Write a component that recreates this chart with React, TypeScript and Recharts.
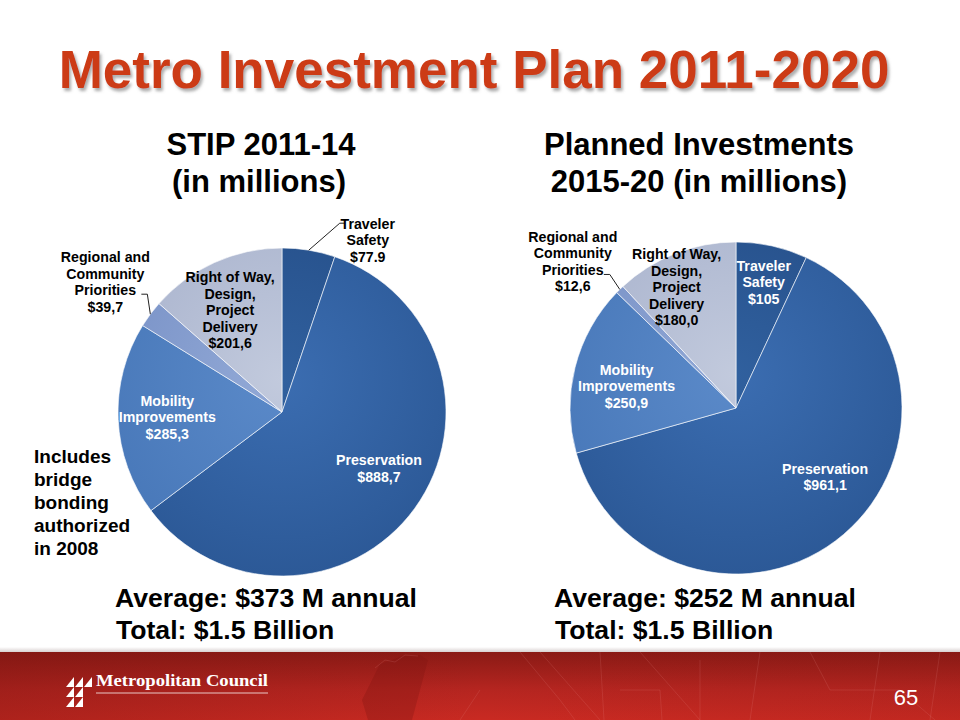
import { PieChart, Pie, Cell } from 'recharts'

const categoryLines = [
  ['Traveler', 'Safety'],
  ['Preservation'],
  ['Mobility', 'Improvements'],
  ['Regional and', 'Community', 'Priorities'],
  ['Right of Way,', 'Design,', 'Project', 'Delivery'],
]
const stipValues = [77.9, 888.7, 285.3, 39.7, 201.6]
const stipValueLabels = ['$77.9', '$888,7', '$285,3', '$39,7', '$201,6']
const plannedValues = [105, 961.1, 250.9, 12.6, 180.0]
const plannedValueLabels = ['$105', '$961,1', '$250,9', '$12,6', '$180,0']

const stipData = categoryLines.map((c, i) => ({ name: c.join(' '), value: stipValues[i] }))
const plannedData = categoryLines.map((c, i) => ({ name: c.join(' '), value: plannedValues[i] }))

// inner / outer colour of each slice gradient
const sliceColors = [
  ['#30609e', '#254e88'],
  ['#3b6db1', '#2c5997'],
  ['#5b8ac9', '#4878b9'],
  ['#93aad7', '#7891c6'],
  ['#c2cadd', '#a9b3cd'],
]

const FONT = "'Liberation Sans', Arial, sans-serif"
const RAD = Math.PI / 180

type Layout = { r: number; dx: number; dy: number; fill: string; leader?: number[][] }

const stipLayout: Layout[] = [
  { r: 1, dx: 59, dy: -10, fill: '#000', leader: [[31, -27], [36, -27]] },
  { r: 0.7, dx: 4, dy: -11, fill: '#fff' },
  { r: 0.7, dx: 0, dy: 0, fill: '#fff' },
  { r: 1, dx: -45, dy: -32, fill: '#000', leader: [[-3, -20], [-9, -20]] },
  { r: 0.68, dx: -6, dy: 0, fill: '#000' },
]

const plannedLayout: Layout[] = [
  { r: 0.77, dx: 0, dy: -1, fill: '#fff' },
  { r: 0.68, dx: 16, dy: -17, fill: '#fff' },
  { r: 0.68, dx: 0, dy: 6, fill: '#fff' },
  { r: 1, dx: -47, dy: -28, fill: '#000', leader: [[-10, -15], [-16, -15]] },
  { r: 0.78, dx: -12, dy: 0, fill: '#000' },
]

const makeLabel = (layout: Layout[], valueLabels: string[]) => (props: any) => {
  const { cx, cy, midAngle, outerRadius, index } = props
  const l = layout[index]
  const cos = Math.cos(-midAngle * RAD)
  const sin = Math.sin(-midAngle * RAD)
  const ax = cx + outerRadius * cos
  const ay = cy + outerRadius * sin
  const x = cx + outerRadius * l.r * cos + l.dx
  const y = cy + outerRadius * l.r * sin + l.dy
  const lines = [...categoryLines[index], valueLabels[index]]
  const lh = 16.5
  const top = y - ((lines.length - 1) * lh) / 2
  return (
    <g key={`lbl-${index}`}>
      {l.leader && (
        <polyline
          points={[[0, 0], ...l.leader].map(([px, py]) => `${ax + px},${ay + py}`).join(' ')}
          fill="none"
          stroke="#222"
          strokeWidth={1}
        />
      )}
      <text x={x} textAnchor="middle" fontFamily={FONT} fontWeight="bold" fontSize={14.2} fill={l.fill}>
        {lines.map((t, i) => (
          <tspan key={i} x={x} y={top + i * lh + 5}>
            {t}
          </tspan>
        ))}
      </text>
    </g>
  )
}

const gradients = (prefix: string, cx: number, cy: number, r: number) =>
  sliceColors.map(([inner, outer], i) => (
    <radialGradient key={prefix + i} id={`${prefix}${i}`} gradientUnits="userSpaceOnUse" cx={cx} cy={cy - r * 0.2} r={r * 1.2}>
      <stop offset="0%" stopColor={inner} />
      <stop offset="100%" stopColor={outer} />
    </radialGradient>
  ))

const Footer = () => (
  <g>
    <defs>
      <linearGradient id="band" x1="0" y1="0" x2="0" y2="1">
        <stop offset="0%" stopColor="#8a1a15" />
        <stop offset="55%" stopColor="#b52520" />
        <stop offset="100%" stopColor="#c92a22" />
      </linearGradient>
      <linearGradient id="bandSide" x1="0" y1="0" x2="1" y2="0">
        <stop offset="0%" stopColor="#7a1410" stopOpacity={0.35} />
        <stop offset="50%" stopColor="#7a1410" stopOpacity={0} />
        <stop offset="100%" stopColor="#7a1410" stopOpacity={0.1} />
      </linearGradient>
      <linearGradient id="edge" x1="0" y1="0" x2="0" y2="1">
        <stop offset="0%" stopColor="#ffffff" />
        <stop offset="100%" stopColor="#d8d0d0" />
      </linearGradient>
    </defs>
    <rect x={0} y={647} width={960} height={5} fill="url(#edge)" />
    <rect x={0} y={652} width={960} height={68} fill="url(#band)" />
    <rect x={0} y={652} width={960} height={68} fill="url(#bandSide)" />
    <path d="M368,720 L362,700 L372,680 L380,664 L392,660 L402,656 L420,655 L428,660 L420,690 L412,720 Z" fill="#7e1511" opacity={0.3} />
    <g fill="none" stroke="#f0a0a0" strokeOpacity={0.14} strokeWidth={1}>
      <polyline points="375,668 385,660 395,662 405,655 418,656" />
      <polyline points="520,652 560,700 575,720" />
      <polyline points="540,652 600,720" />
      <polyline points="600,652 604,720" />
      <polyline points="620,690 660,690 662,720" />
      <polyline points="640,652 700,720" />
      <polyline points="700,660 700,720" />
      <polyline points="760,652 750,720" />
      <polyline points="810,652 830,690 900,690 935,720" />
      <polyline points="880,652 870,720" />
      <polyline points="940,652 930,720" />
      <polyline points="460,720 480,690" />
    </g>
    <g fill="#fff">
      {[66, 75, 84].map((tx) => (
        <polygon key={`a${tx}`} points={`${tx},687 ${tx + 8},677 ${tx + 8},687`} />
      ))}
      {[66, 75].map((tx) => (
        <polygon key={`b${tx}`} points={`${tx},697 ${tx + 8},687 ${tx + 8},697`} />
      ))}
      <polygon points="66,707 74,697 74,707" />
      <polygon points="75,707 83,697 83,707" />
    </g>
    <text x={96} y={686} fontFamily="'Liberation Serif', 'DejaVu Serif', serif" fontWeight="bold" fontSize={17} fill="#fff" textLength={172} lengthAdjust="spacingAndGlyphs">
      Metropolitan Council
    </text>
    <line x1={96} x2={268} y1={693} y2={693} stroke="#fff" strokeOpacity={0.75} strokeWidth={1} />
    <text x={906} y={705} textAnchor="middle" fontFamily={FONT} fontSize={22} fill="#fff">
      65
    </text>
  </g>
)

export default function App() {
  return (
    <div style={{ position: 'absolute', left: 0, top: 0, width: 960, height: 720, background: '#fff', overflow: 'hidden' }}>
      <svg width={960} height={720} style={{ position: 'absolute', left: 0, top: 0 }}>
        <defs>
          <filter id="shadow" x="-5%" y="-20%" width="110%" height="150%">
            <feDropShadow dx={2} dy={3} stdDeviation={1.5} floodColor="#777" floodOpacity={0.6} />
          </filter>
        </defs>
        <text x={474} y={88} textAnchor="middle" fontFamily={FONT} fontWeight="bold" fontSize={53} fill="#cc3a12" filter="url(#shadow)">
          Metro Investment Plan 2011-2020
        </text>
        <g fontFamily={FONT} fontWeight="bold" fontSize={31} fill="#000" textAnchor="middle">
          <text x={261} y={155}>STIP 2011-14</text>
          <text x={259} y={192}>(in millions)</text>
          <text x={699} y={155}>Planned Investments</text>
          <text x={699} y={192}>2015-20 (in millions)</text>
        </g>
        <g fontFamily={FONT} fontWeight="bold" fontSize={19} fill="#000">
          {['Includes', 'bridge', 'bonding', 'authorized', 'in 2008'].map((t, i) => (
            <text key={t} x={34} y={463 + i * 23}>
              {t}
            </text>
          ))}
        </g>
        <g fontFamily={FONT} fontWeight="bold" fontSize={26.6} fill="#000">
          <text x={115} y={607}>Average: $373 M annual</text>
          <text x={116} y={639}>Total: $1.5 Billion</text>
          <text x={554} y={607}>Average: $252 M annual</text>
          <text x={555} y={639}>Total: $1.5 Billion</text>
        </g>
        <Footer />
      </svg>
      <div style={{ position: 'absolute', left: 0, top: 0 }}>
        <PieChart width={960} height={720} margin={{ top: 0, right: 0, bottom: 0, left: 0 }}>
          <defs>
            {gradients('stip', 282, 412, 164)}
            {gradients('plan', 736, 408, 166)}
          </defs>
          <Pie
            data={stipData}
            dataKey="value"
            nameKey="name"
            cx={282}
            cy={412}
            outerRadius={164}
            startAngle={90}
            endAngle={-270}
            stroke="#ffffff"
            strokeOpacity={0.6}
            strokeWidth={1}
            label={makeLabel(stipLayout, stipValueLabels)}
            labelLine={false}
            isAnimationActive={false}
          >
            {stipData.map((_, i) => (
              <Cell key={i} fill={`url(#stip${i})`} />
            ))}
          </Pie>
          <Pie
            data={plannedData}
            dataKey="value"
            nameKey="name"
            cx={736}
            cy={408}
            outerRadius={166}
            startAngle={90}
            endAngle={-270}
            stroke="#ffffff"
            strokeOpacity={0.6}
            strokeWidth={1}
            label={makeLabel(plannedLayout, plannedValueLabels)}
            labelLine={false}
            isAnimationActive={false}
          >
            {plannedData.map((_, i) => (
              <Cell key={i} fill={`url(#plan${i})`} />
            ))}
          </Pie>
        </PieChart>
      </div>
    </div>
  )
}
